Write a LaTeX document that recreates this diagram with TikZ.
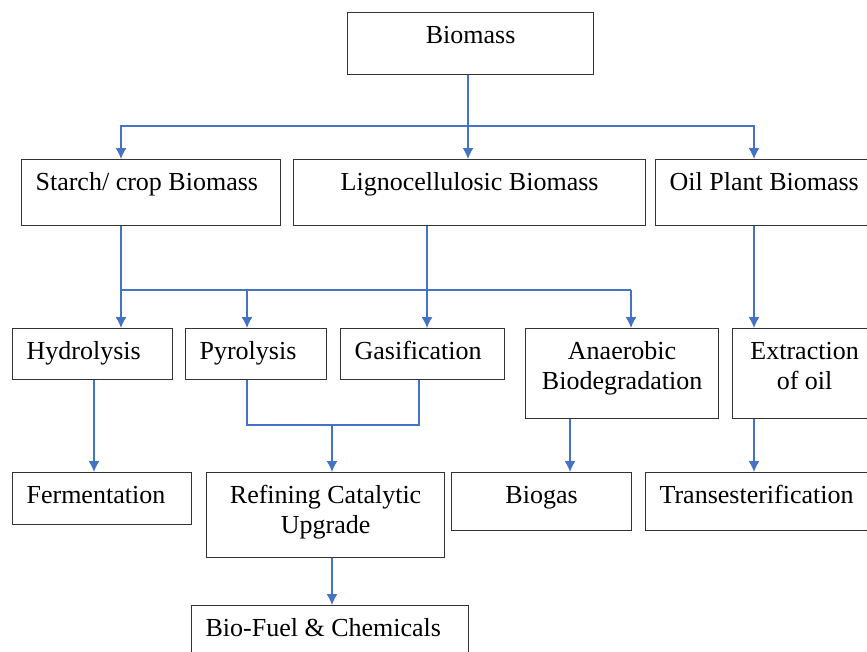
\documentclass[tikz,border=0pt]{standalone}
\usepackage{fontspec}
\setmainfont{Liberation Serif}
\usepackage{tikz}
\usetikzlibrary{arrows.meta}
\usetikzlibrary{positioning}

\definecolor{linkblue}{HTML}{4472C4}

\begin{document}
\begin{tikzpicture}[x=1pt,y=-1pt]
\tikzstyle{block} = [rectangle, draw=black!80, line width=1.2pt, anchor=north west,
inner sep=0pt, text height=31pt, font=\fontsize{26}{30}\selectfont, align=flush center]
\tikzstyle{lblock} = [block, inner xsep=14pt, align=flush left]
\tikzstyle{line} = [draw=linkblue, line width=1.3pt, -{Latex[length=11pt,width=11pt]}]
\tikzstyle{plain} = [draw=linkblue, line width=1.3pt]
\useasboundingbox (0,0) rectangle (867,651);
\clip (0,0) rectangle (867,651);
% row 1
\node [block, text width=246pt, text depth=31pt] (bio) at (347,12) {Biomass};
% row 2
\node [lblock, text width=231pt, text depth=35pt] (starch) at (21,159) {Starch/ crop Biomass};
\node [block, text width=352pt, text depth=35pt] (lig) at (293,159) {Lignocellulosic Biomass};
\node [lblock, text width=202pt, text depth=35pt] (oil) at (655,159) {Oil Plant Biomass};
% row 3
\node [lblock, text width=132pt, text depth=20pt] (hyd) at (12,328) {Hydrolysis};
\node [lblock, text width=113pt, text depth=20pt] (pyr) at (185,328) {Pyrolysis};
\node [lblock, text width=136pt, text depth=20pt] (gas) at (340,328) {Gasification};
\node [block, text width=193pt, text depth=59pt] (ana) at (525,328) {Anaerobic\\Biodegradation};
\node [block, text width=144pt, text depth=59pt] (ext) at (732,328) {Extraction\\of oil};
% row 4
\node [lblock, text width=151pt, text depth=21pt] (fer) at (12,472) {Fermentation};
\node [block, text width=238pt, text depth=54pt] (ref) at (206,472) {Refining Catalytic\\Upgrade};
\node [block, text width=180pt, text depth=27pt] (bgs) at (451,472) {Biogas};
\node [lblock, text width=212pt, text depth=27pt] (tra) at (645,472) {Transesterification};
% row 5
\node [lblock, text width=249pt, text depth=29pt] (bfc) at (191,605) {Bio-Fuel \& Chemicals};
% junctions
\coordinate (ta) at (468,126);
\coordinate (ra) at (121,126);
\coordinate (rb) at (754,126);
\coordinate (ja) at (121,290);
\coordinate (jb) at (631,290);
\coordinate (jc) at (247,290);
\coordinate (jd) at (427,290);
\coordinate (ma) at (247,425);
\coordinate (mb) at (419,425);
\coordinate (mc) at (332,425);
\coordinate (ka) at (94,0);
\coordinate (kb) at (570,0);
% biomass to the three kinds
\draw[plain] (ta |- bio.south) -- (ta);
\draw[line] (ta) -- (ta |- lig.north);
\draw[line] (ta) -- (ra) -- (ra |- starch.north);
\draw[line] (ta) -- (rb) -- (rb |- oil.north);
% kinds to processes
\draw[line] (ra |- starch.south) -- (ra |- hyd.north);
\draw[plain] (ja) -- (jb);
\draw[line] (jc) -- (jc |- pyr.north);
\draw[line] (jb) -- (jb |- ana.north);
\draw[line] (jd |- lig.south) -- (jd |- gas.north);
\draw[line] (rb |- oil.south) -- (rb |- ext.north);
% processes to products
\draw[line] (ka |- hyd.south) -- (ka |- fer.north);
\draw[plain] (ma |- pyr.south) -- (ma) -- (mb) -- (mb |- gas.south);
\draw[line] (mc) -- (mc |- ref.north);
\draw[line] (kb |- ana.south) -- (kb |- bgs.north);
\draw[line] (rb |- ext.south) -- (rb |- tra.north);
\draw[line] (mc |- ref.south) -- (mc |- bfc.north);
\end{tikzpicture}
\end{document}
